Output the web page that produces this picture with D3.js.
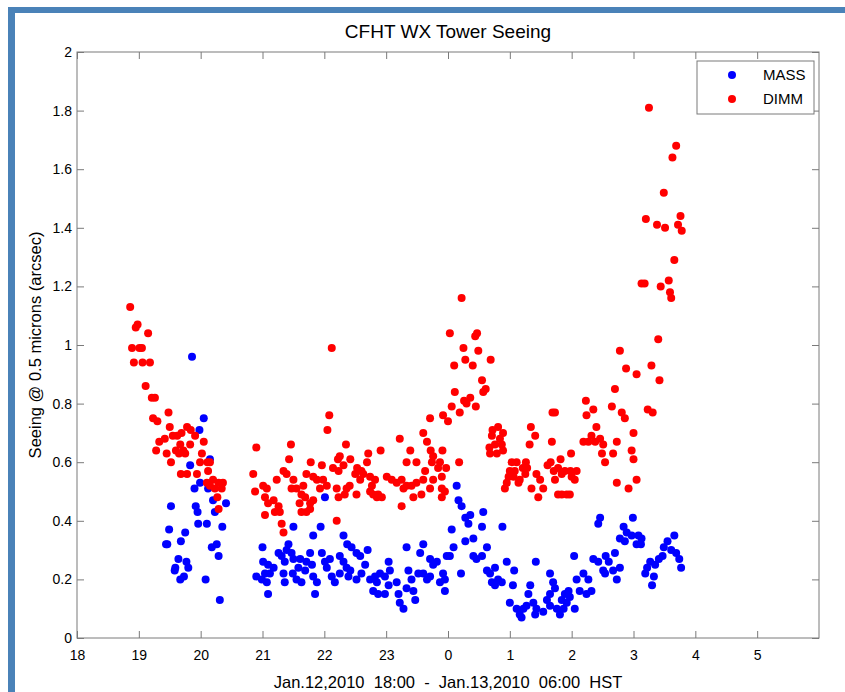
<!DOCTYPE html>
<html>
<head>
<meta charset="utf-8">
<script src="https://cdn.jsdelivr.net/npm/d3@7"></script>
<style>
  body { margin: 0; background: #fff; }
  text { font-family: "Liberation Sans", Arial, Helvetica, sans-serif; fill: #000; }
</style>
</head>
<body>
<script>
// hours run past midnight as 24, 25, ... so the night is one continuous axis
const hourTicks = [18, 19, 20, 21, 22, 23, 24, 25, 26, 27, 28, 29]
const hourLabels = ['18', '19', '20', '21', '22', '23', '0', '1', '2', '3', '4', '5']
const seeingTicks = [0, 0.2, 0.4, 0.6, 0.8, 1, 1.2, 1.4, 1.6, 1.8, 2]
const seeingLabels = ['0', '0.2', '0.4', '0.6', '0.8', '1', '1.2', '1.4', '1.6', '1.8', '2']

const massSeeing = [
  [19.86, 0.96], [20.05, 0.75], [19.98, 0.71], [20.15, 0.61], [19.83, 0.59], [19.99, 0.53], [19.90, 0.51],
  [20.12, 0.51], [20.20, 0.47], [20.41, 0.46], [19.52, 0.45], [19.92, 0.45], [19.95, 0.43], [20.23, 0.43],
  [19.96, 0.39], [20.10, 0.39], [20.35, 0.38], [19.49, 0.37], [19.75, 0.36], [19.44, 0.32], [19.46, 0.32],
  [19.68, 0.33], [20.18, 0.31], [20.26, 0.32], [20.29, 0.28], [19.64, 0.27], [19.77, 0.26], [19.80, 0.24],
  [19.59, 0.24], [19.58, 0.23], [19.67, 0.20], [19.73, 0.21], [20.08, 0.20], [20.31, 0.13], [20.90, 0.21],
  [22.01, 0.48], [21.50, 0.38], [21.94, 0.38], [21.00, 0.31], [21.42, 0.32], [21.82, 0.35], [22.31, 0.35],
  [22.37, 0.32], [22.44, 0.31], [22.52, 0.29], [22.58, 0.28], [22.70, 0.30], [21.26, 0.29], [21.31, 0.28],
  [21.39, 0.30], [21.47, 0.29], [21.50, 0.27], [21.36, 0.26], [21.61, 0.27], [21.71, 0.26], [21.77, 0.29],
  [21.80, 0.25], [21.69, 0.23], [21.58, 0.24], [21.49, 0.22], [21.01, 0.26], [21.09, 0.25], [21.18, 0.24],
  [21.04, 0.22], [21.12, 0.22], [20.99, 0.20], [21.07, 0.19], [21.34, 0.22], [21.55, 0.20], [21.63, 0.19],
  [21.82, 0.21], [21.88, 0.19], [21.36, 0.19], [21.09, 0.15], [21.85, 0.15], [21.96, 0.29], [22.01, 0.26],
  [22.09, 0.27], [22.04, 0.24], [22.12, 0.21], [22.17, 0.19], [22.25, 0.28], [22.31, 0.26], [22.36, 0.24],
  [22.42, 0.23], [22.25, 0.22], [22.39, 0.21], [22.52, 0.20], [22.60, 0.22], [22.66, 0.25], [22.74, 0.20],
  [22.82, 0.21], [22.90, 0.22], [22.98, 0.21], [23.04, 0.26], [23.06, 0.23], [22.85, 0.19], [22.79, 0.16],
  [22.87, 0.15], [22.98, 0.15], [23.04, 0.18], [23.17, 0.19], [23.20, 0.15], [23.22, 0.12], [23.28, 0.10],
  [23.33, 0.17], [23.36, 0.23], [23.41, 0.20], [23.44, 0.16], [23.47, 0.13], [23.52, 0.22], [23.60, 0.22],
  [23.66, 0.20], [23.71, 0.21], [23.71, 0.27], [23.76, 0.25], [23.82, 0.26], [23.33, 0.31], [23.60, 0.32],
  [23.55, 0.29], [24.14, 0.52], [24.17, 0.47], [24.22, 0.45], [24.36, 0.42], [24.28, 0.41], [24.33, 0.39],
  [24.06, 0.37], [24.55, 0.38], [24.57, 0.43], [24.88, 0.38], [24.28, 0.33], [24.41, 0.34], [24.09, 0.31],
  [24.03, 0.28], [23.98, 0.28], [24.63, 0.31], [24.41, 0.28], [24.46, 0.27], [24.55, 0.28], [23.92, 0.22],
  [23.95, 0.20], [23.87, 0.19], [23.95, 0.16], [24.21, 0.22], [24.63, 0.23], [24.68, 0.22], [24.76, 0.24],
  [24.71, 0.19], [24.81, 0.20], [24.76, 0.18], [24.87, 0.19], [24.95, 0.26], [25.07, 0.23], [25.05, 0.18],
  [25.00, 0.12], [25.11, 0.10], [25.16, 0.08], [25.22, 0.10], [25.19, 0.07], [25.33, 0.18], [25.30, 0.15],
  [25.38, 0.12], [25.43, 0.10], [25.54, 0.09], [25.41, 0.08], [25.27, 0.11], [25.42, 0.26], [25.65, 0.22],
  [25.70, 0.19], [25.73, 0.17], [25.65, 0.15], [25.60, 0.13], [25.65, 0.11], [25.76, 0.10], [25.81, 0.08],
  [25.87, 0.10], [25.84, 0.13], [25.89, 0.15], [25.95, 0.16], [25.92, 0.12], [25.97, 0.14], [26.05, 0.10],
  [26.08, 0.20], [26.19, 0.22], [26.27, 0.20], [26.32, 0.16], [26.24, 0.15], [26.13, 0.16], [26.04, 0.28],
  [26.35, 0.27], [26.43, 0.26], [26.51, 0.23], [26.54, 0.22], [26.55, 0.28], [26.60, 0.26], [26.67, 0.23],
  [26.73, 0.20], [26.78, 0.24], [26.70, 0.29], [26.78, 0.34], [26.86, 0.33], [26.89, 0.36], [26.97, 0.35],
  [27.05, 0.32], [26.84, 0.38], [26.99, 0.41], [26.43, 0.39], [26.46, 0.41], [27.08, 0.35], [27.13, 0.34],
  [27.12, 0.32], [27.66, 0.35], [27.55, 0.33], [27.49, 0.31], [27.61, 0.30], [27.69, 0.29], [27.47, 0.28],
  [27.74, 0.27], [27.77, 0.24], [27.41, 0.27], [27.35, 0.25], [27.27, 0.26], [27.22, 0.24], [27.19, 0.22],
  [27.33, 0.21], [27.30, 0.18]
]

const dimmSeeing = [
  [18.86, 1.13], [18.98, 1.07], [18.95, 1.06], [19.15, 1.04], [18.89, 0.99], [19.01, 0.99], [19.05, 0.99],
  [18.92, 0.94], [19.06, 0.94], [19.18, 0.94], [19.11, 0.86], [19.21, 0.82], [19.26, 0.82], [19.23, 0.75],
  [19.30, 0.74], [19.48, 0.77], [19.33, 0.67], [19.42, 0.68], [19.50, 0.72], [19.55, 0.69], [19.62, 0.69],
  [19.69, 0.70], [19.78, 0.72], [19.84, 0.71], [19.91, 0.69], [19.67, 0.66], [19.60, 0.64], [19.83, 0.66],
  [19.72, 0.64], [19.28, 0.64], [19.45, 0.63], [19.52, 0.60], [19.65, 0.63], [19.75, 0.63], [20.05, 0.67],
  [20.02, 0.63], [19.99, 0.60], [20.11, 0.60], [20.15, 0.60], [20.12, 0.57], [19.68, 0.56], [19.78, 0.56],
  [19.94, 0.56], [20.10, 0.53], [20.20, 0.54], [20.29, 0.53], [20.36, 0.53], [20.15, 0.52], [20.23, 0.51],
  [20.34, 0.51], [20.27, 0.48], [20.29, 0.44], [20.90, 0.65], [20.85, 0.56], [20.88, 0.50],
  [22.08, 0.76], [22.05, 0.71], [21.46, 0.66], [21.43, 0.61], [22.35, 0.66], [22.91, 0.64], [21.78, 0.60],
  [21.96, 0.59], [22.25, 0.62], [22.22, 0.61], [22.42, 0.61], [22.14, 0.58], [22.23, 0.57], [22.31, 0.59],
  [22.71, 0.63], [22.69, 0.60], [22.53, 0.58], [22.60, 0.57], [22.50, 0.56], [22.63, 0.56], [22.58, 0.54],
  [22.74, 0.55], [22.82, 0.54], [21.34, 0.57], [21.39, 0.56], [21.50, 0.54], [21.47, 0.51], [21.55, 0.51],
  [21.66, 0.52], [21.71, 0.56], [21.82, 0.55], [21.88, 0.54], [21.98, 0.54], [21.93, 0.51], [22.04, 0.52],
  [21.63, 0.49], [21.69, 0.48], [21.60, 0.46], [21.77, 0.46], [21.77, 0.44], [21.63, 0.43], [21.71, 0.43],
  [21.82, 0.47], [22.20, 0.51], [22.23, 0.48], [22.36, 0.51], [22.41, 0.52], [22.33, 0.49], [22.52, 0.49],
  [22.74, 0.50], [22.79, 0.49], [22.87, 0.49], [22.85, 0.48], [22.93, 0.48], [22.77, 0.52], [23.01, 0.55],
  [23.09, 0.54], [23.17, 0.53], [23.25, 0.54], [23.33, 0.52], [23.28, 0.51], [23.41, 0.52], [23.49, 0.53],
  [23.60, 0.54], [23.57, 0.49], [23.44, 0.48], [23.25, 0.45], [23.71, 0.51], [23.76, 0.54], [23.90, 0.55],
  [23.22, 0.68], [23.39, 0.64], [23.33, 0.60], [23.49, 0.60], [23.63, 0.57], [23.60, 0.70], [23.66, 0.67],
  [23.72, 0.64], [23.76, 0.62], [23.74, 0.60], [23.84, 0.58], [23.71, 0.75], [21.01, 0.52], [21.07, 0.51],
  [21.04, 0.48], [21.09, 0.46], [21.18, 0.47], [21.23, 0.54], [21.26, 0.45], [21.28, 0.43], [21.31, 0.39],
  [21.34, 0.36], [21.20, 0.43], [21.04, 0.42], [22.20, 0.40], [22.12, 0.99],
  [24.22, 1.16], [24.03, 1.04], [24.44, 1.03], [24.47, 1.04], [24.25, 0.99], [24.49, 0.98], [24.28, 0.95],
  [24.40, 0.93], [24.10, 0.93], [24.69, 0.95], [24.55, 0.88], [24.57, 0.84], [24.61, 0.85], [24.11, 0.84],
  [24.26, 0.81], [24.36, 0.82], [24.30, 0.80], [24.45, 0.79], [24.06, 0.79], [24.19, 0.77], [23.92, 0.76],
  [24.00, 0.74], [23.91, 0.64], [23.87, 0.60], [23.97, 0.58], [24.18, 0.60], [23.90, 0.51], [23.95, 0.50],
  [23.90, 0.48], [25.69, 0.77], [25.73, 0.77], [24.72, 0.71], [24.81, 0.72], [24.89, 0.70], [24.71, 0.69],
  [24.84, 0.68], [24.76, 0.66], [24.87, 0.66], [24.67, 0.65], [24.68, 0.63], [24.79, 0.63], [24.89, 0.64],
  [25.34, 0.72], [25.41, 0.69], [25.32, 0.66], [25.68, 0.67], [25.99, 0.63], [25.82, 0.61], [25.66, 0.60],
  [25.78, 0.58], [25.03, 0.60], [25.11, 0.60], [25.26, 0.60], [25.00, 0.57], [25.08, 0.57], [25.21, 0.58],
  [25.28, 0.58], [24.98, 0.55], [25.06, 0.55], [25.16, 0.54], [24.95, 0.53], [24.92, 0.51], [25.14, 0.53],
  [25.25, 0.56], [25.43, 0.56], [25.49, 0.54], [25.35, 0.51], [25.46, 0.48], [25.54, 0.51], [25.61, 0.59],
  [25.71, 0.57], [25.73, 0.54], [25.84, 0.56], [25.89, 0.57], [25.98, 0.57], [26.08, 0.57], [26.00, 0.55],
  [26.05, 0.54], [25.78, 0.49], [25.84, 0.49], [25.92, 0.49], [25.97, 0.49], [26.23, 0.81], [26.35, 0.78],
  [26.24, 0.76], [26.65, 0.79], [26.70, 0.85], [26.81, 0.77], [26.86, 0.75], [27.05, 0.90], [26.78, 0.98],
  [26.88, 0.92], [26.40, 0.72], [26.32, 0.69], [26.19, 0.67], [26.27, 0.67], [26.38, 0.67], [26.46, 0.68],
  [26.51, 0.66], [26.49, 0.63], [26.54, 0.60], [26.67, 0.63], [26.73, 0.67], [27.00, 0.70], [26.97, 0.64],
  [27.00, 0.61], [26.73, 0.53], [26.92, 0.51], [27.05, 0.54], [27.25, 1.81], [27.69, 1.68], [27.63, 1.64],
  [27.49, 1.52], [27.76, 1.44], [27.72, 1.41], [27.78, 1.39], [27.20, 1.43], [27.38, 1.41], [27.51, 1.40],
  [27.66, 1.29], [27.57, 1.22], [27.44, 1.20], [27.59, 1.18], [27.61, 1.16], [27.13, 1.21], [27.18, 1.21],
  [27.40, 1.02], [27.29, 0.93], [27.42, 0.88], [27.23, 0.78], [27.31, 0.77]
]

const seriesNames = ['MASS', 'DIMM']
const seriesColors = ['#0000ff', '#ff0000']

const width = 845
const height = 692
const plotLeft = 77
const plotRight = 819
const plotTop = 52
const plotBottom = 638
const axisGrey = '#7a7a7a'

const svg = d3.select('body').append('svg')
  .attr('width', width)
  .attr('height', height)

svg.append('rect').attr('width', width).attr('height', height).attr('fill', '#fff')

// blue frame of the page the chart was cut from
svg.append('rect').attr('x', 8).attr('y', 7).attr('width', width - 8).attr('height', 6).attr('fill', '#4a82b8')
svg.append('rect').attr('x', 8).attr('y', 7).attr('width', 7).attr('height', height - 7).attr('fill', '#4a82b8')

const x = d3.scaleLinear().domain([18, 30]).range([plotLeft, plotRight])
const y = d3.scaleLinear().domain([0, 2]).range([plotBottom, plotTop])

function styleAxis (g) {
  g.select('.domain').remove()
  g.selectAll('line').attr('stroke', axisGrey)
  g.selectAll('text').attr('font-size', 14).attr('fill', '#000')
    .attr('font-family', '"Liberation Sans", Arial, Helvetica, sans-serif')
}

svg.append('g')
  .attr('transform', 'translate(0,' + plotBottom + ')')
  .call(d3.axisBottom(x).tickValues(hourTicks).tickFormat((d, i) => hourLabels[i])
    .tickSizeInner(-7).tickSizeOuter(0).tickPadding(12))
  .call(styleAxis)

svg.append('g')
  .attr('transform', 'translate(0,' + plotTop + ')')
  .call(d3.axisTop(x).tickValues(hourTicks).tickFormat('').tickSizeInner(-7).tickSizeOuter(0))
  .call(styleAxis)

svg.append('g')
  .attr('transform', 'translate(' + plotLeft + ',0)')
  .call(d3.axisLeft(y).tickValues(seeingTicks).tickFormat((d, i) => seeingLabels[i])
    .tickSizeInner(-7).tickSizeOuter(0).tickPadding(5))
  .call(styleAxis)

svg.append('g')
  .attr('transform', 'translate(' + plotRight + ',0)')
  .call(d3.axisRight(y).tickValues(seeingTicks).tickFormat('').tickSizeInner(-7).tickSizeOuter(0))
  .call(styleAxis)

svg.append('rect')
  .attr('x', plotLeft).attr('y', plotTop)
  .attr('width', plotRight - plotLeft).attr('height', plotBottom - plotTop)
  .attr('fill', 'none').attr('stroke', axisGrey)

const series = [massSeeing, dimmSeeing]
series.forEach(function (points, s) {
  svg.append('g')
    .selectAll('circle')
    .data(points)
    .enter().append('circle')
    .attr('cx', d => x(d[0]))
    .attr('cy', d => y(d[1]))
    .attr('r', 4)
    .attr('fill', seriesColors[s])
})

svg.append('text')
  .attr('x', (plotLeft + plotRight) / 2).attr('y', 38)
  .attr('text-anchor', 'middle').attr('font-size', 19)
  .text('CFHT WX Tower Seeing')

svg.append('text')
  .attr('x', (plotLeft + plotRight) / 2).attr('y', 688)
  .attr('text-anchor', 'middle').attr('font-size', 16.5)
  .attr('xml:space', 'preserve').style('white-space', 'pre')
  .text('Jan.12,2010  18:00  -  Jan.13,2010  06:00  HST')

svg.append('text')
  .attr('transform', 'translate(41,' + (plotTop + plotBottom) / 2 + ') rotate(-90)')
  .attr('text-anchor', 'middle').attr('font-size', 16.5)
  .text('Seeing @ 0.5 microns (arcsec)')

// legend
const legend = svg.append('g')
legend.append('rect')
  .attr('x', 697).attr('y', 61).attr('width', 117).attr('height', 53)
  .attr('fill', '#fff').attr('stroke', axisGrey)

legend.selectAll('circle')
  .data(seriesNames)
  .enter().append('circle')
  .attr('cx', 732)
  .attr('cy', (d, i) => 75 + i * 24)
  .attr('r', 4)
  .attr('fill', (d, i) => seriesColors[i])

legend.selectAll('text')
  .data(seriesNames)
  .enter().append('text')
  .attr('x', 763)
  .attr('y', (d, i) => 75 + i * 24)
  .attr('dy', '0.35em')
  .attr('font-size', 15)
  .text(d => d)
</script>
</body>
</html>
